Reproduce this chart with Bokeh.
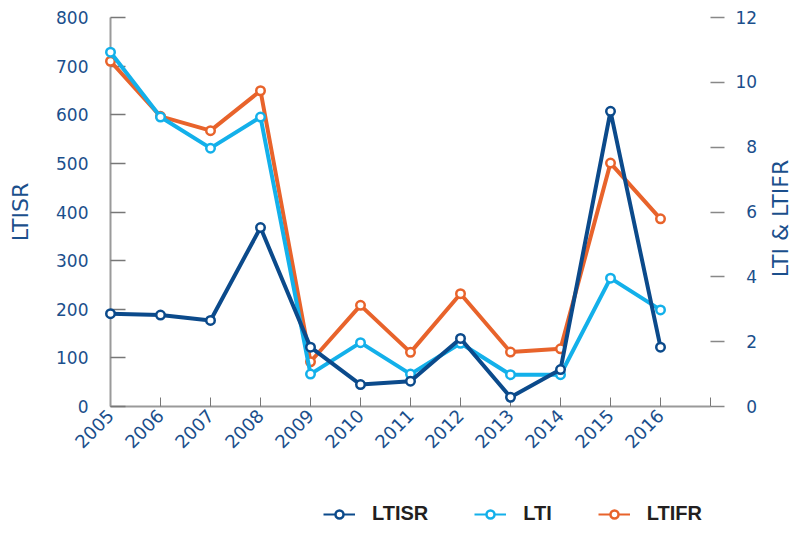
from math import pi
from bokeh.plotting import figure
from bokeh.layouts import column
from bokeh.models import Range1d, LinearAxis, FixedTicker, Legend, LegendItem, ColumnDataSource
from bokeh.core.properties import value
from bokeh.embed import file_html
from bokeh.resources import INLINE

# ---- data ----
years = list(range(2005, 2017))
ltisr = [191, 188, 177, 368, 122, 45, 52, 140, 19, 76, 607, 122]
lti = [10.93, 8.93, 7.97, 8.93, 1.0, 1.97, 1.0, 1.95, 0.98, 0.98, 3.96, 2.98]
ltifr = [10.65, 8.95, 8.51, 9.74, 1.38, 3.12, 1.67, 3.48, 1.68, 1.78, 7.51, 5.79]
left_ticks = list(range(0, 900, 100))
right_ticks = list(range(0, 14, 2))
x_ticks = list(range(2005, 2018))
series_names = ["LTISR", "LTI", "LTIFR"]
left_title = "LTISR"
right_title = "LTI & LTIFR"

DARK = "#0b4a8b"
LIGHT = "#13b0ea"
ORANGE = "#e8632b"
TXT = "#1b4f8c"
GRAY = "#9a9a9a"

p = figure(width=795, height=470, x_range=Range1d(2005, 2017), y_range=Range1d(0, 800),
           output_backend="svg", toolbar_location=None,
           min_border_left=110, min_border_right=85, min_border_top=17, min_border_bottom=64)
p.extra_y_ranges = {"r": Range1d(0, 12)}
p.outline_line_color = None
p.xgrid.visible = False
p.ygrid.visible = False
p.background_fill_color = "white"

# x axis
xa = p.xaxis[0]
xa.ticker = FixedTicker(ticks=x_ticks)
xa.major_label_overrides = {2017: ""}
xa.major_label_orientation = pi / 4
xa.axis_line_color = GRAY
xa.axis_line_width = 2
xa.major_tick_in = 9
xa.major_tick_out = 0
xa.major_tick_line_color = "#777777"
xa.minor_tick_line_color = None
xa.major_label_standoff = 6
xa.major_label_text_font = "DejaVu Sans"
xa.major_label_text_font_size = "18px"
xa.major_label_text_color = TXT

# left axis
ya = p.yaxis[0]
ya.ticker = FixedTicker(ticks=left_ticks)
ya.axis_line_color = GRAY
ya.axis_line_width = 2
ya.major_tick_in = 15
ya.major_tick_out = 0
ya.major_tick_line_color = "#777777"
ya.major_tick_line_width = 1.5
ya.minor_tick_line_color = None
ya.major_label_standoff = 22
ya.major_label_text_font = "DejaVu Sans"
ya.major_label_text_font_size = "17px"
ya.major_label_text_color = TXT
ya.axis_label = left_title
ya.axis_label_text_font = "DejaVu Sans"
ya.axis_label_text_font_size = "22px"
ya.axis_label_text_font_style = "normal"
ya.axis_label_text_color = TXT
ya.axis_label_standoff = 20

# right axis
ra = LinearAxis(y_range_name="r", ticker=FixedTicker(ticks=right_ticks))
ra.major_label_overrides = {t: ("\u2007" + str(t) if t < 10 else str(t)) for t in right_ticks}
ra.axis_line_color = None
ra.major_tick_in = 0
ra.major_tick_out = 14
ra.major_tick_line_color = "#888888"
ra.major_tick_line_width = 1.5
ra.minor_tick_line_color = None
ra.major_label_standoff = 11
ra.major_label_text_font = "DejaVu Sans"
ra.major_label_text_font_size = "17px"
ra.major_label_text_color = TXT
p.add_layout(ra, "right")

# right axis title, reading bottom-to-top, drawn as unclipped overlay text
p.text(x=[2018.4], y=[5.8], text=[right_title], y_range_name="r", angle=pi / 2,
       text_align="center", text_baseline="middle", text_font=value("DejaVu Sans"),
       text_font_size="22px", text_color=TXT, level="overlay")

# series
specs = [(ltifr, ORANGE, "r"), (lti, LIGHT, "r"), (ltisr, DARK, "default")]
for vals, col, rng in specs:
    src = ColumnDataSource(dict(x=years, y=vals))
    p.line("x", "y", source=src, y_range_name=rng, line_width=4, line_color=col, level="overlay")
    p.scatter("x", "y", source=src, y_range_name=rng, marker="circle", size=8.5,
              fill_color="white", line_color=col, line_width=2.5, level="overlay")

# legend strip (its frame is aligned with the main frame, so the legend must fit inside it)
q = figure(width=795, height=55, x_range=Range1d(0, 1), y_range=Range1d(0, 1),
           output_backend="svg", toolbar_location=None, x_axis_location=None,
           y_axis_location=None, min_border=0)
q.outline_line_color = None
q.xgrid.visible = False
q.ygrid.visible = False
items = []
for name, col in zip(series_names, [DARK, LIGHT, ORANGE]):
    proxy = ColumnDataSource(dict(x=[float("nan")], y=[float("nan")]))
    lr = q.line("x", "y", source=proxy, line_width=2, line_color=col)
    sr = q.scatter("x", "y", source=proxy, marker="circle", size=11, fill_color="white",
                   line_color=col, line_width=2.5)
    items.append(LegendItem(label=name, renderers=[lr, sr]))

legend = Legend(items=items, orientation="horizontal", location=(213, 0),
                padding=0, margin=0, spacing=46, glyph_width=32, glyph_height=20,
                label_standoff=17, border_line_color=None, background_fill_alpha=0,
                label_text_font="Liberation Sans", label_text_font_style="bold",
                label_text_font_size="20px", label_text_color="#231f20")
q.add_layout(legend)

open("out.html", "w").write(file_html(column(p, q, spacing=0), INLINE))
